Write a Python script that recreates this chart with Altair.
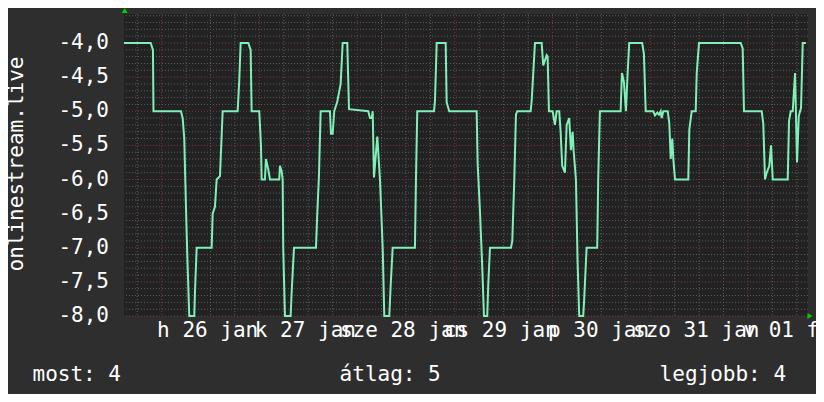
import altair as alt
import pandas as pd

# hours since 26 jan 00:00
hours = [-9.25, -2.70, -2.14, -2.01, 4.74, 5.16, 5.55, 5.97, 6.29, 6.78, 8.01, 8.18, 8.60,
         12.28, 12.53, 13.09, 13.51, 14.32, 14.98, 18.67, 19.06, 19.40, 21.27, 21.86, 22.10,
         23.97, 24.39, 24.56, 25.37, 25.61, 26.18, 26.60, 28.88, 29.05, 29.47, 29.72, 29.86,
         30.28, 31.68, 31.93, 32.50, 37.90, 38.22, 38.63, 39.05, 41.34, 41.58, 42.00, 42.39,
         43.13, 43.96, 44.46, 45.59, 46.01, 50.75, 51.17, 51.59, 51.83, 52.15, 52.96, 53.62,
         54.29, 54.68, 55.91, 56.25, 56.74, 62.21, 62.46, 62.78, 66.88, 67.13, 67.55, 69.76,
         70.00, 70.64, 77.37, 77.61, 78.17, 78.74, 79.16, 79.97, 80.21, 80.64, 85.80, 86.12,
         86.61, 87.02, 87.34, 90.63, 90.88, 91.69, 93.33, 93.72, 94.56, 94.80, 95.12, 96.03,
         96.59, 97.01, 97.65, 97.99, 98.38, 99.05, 99.47, 100.10, 100.52, 100.94, 101.18,
         101.75, 102.16, 102.56, 103.54, 103.78, 104.37, 106.98, 107.22, 107.64, 112.73,
         113.05, 113.54, 114.03, 114.45, 114.84, 118.03, 118.45, 118.89, 120.76, 121.17,
         121.74, 122.15, 122.57, 122.82, 123.21, 124.29, 124.68, 125.03, 125.42, 125.67,
         126.09, 129.35, 129.60, 130.19, 131.17, 131.42, 131.98, 142.22, 142.71, 143.03,
         147.38, 147.77, 148.19, 148.61, 149.25, 149.67, 150.09, 153.77, 154.09, 154.51,
         155.00, 155.57, 156.06, 156.48, 157.04, 157.46, 158.26]
values = [-4.0, -4.0, -4.1, -5.0, -5.0, -5.1, -5.4, -6.4, -7.1, -8.0, -8.0, -7.65, -7.0,
          -7.0, -6.5, -6.4, -6.0, -5.95, -5.0, -5.0, -4.55, -4.0, -4.0, -4.1, -5.0,
          -5.0, -5.5, -6.0, -6.0, -5.7, -5.85, -6.0, -6.0, -5.8, -5.88, -6.0, -7.0,
          -8.0, -8.0, -7.65, -7.0, -7.0, -6.5, -5.95, -5.0, -5.0, -5.33, -5.33, -5.0,
          -4.86, -4.6, -4.0, -4.0, -4.97, -5.0, -5.1, -5.1, -5.0, -5.97, -5.37, -6.0,
          -7.0, -8.0, -8.0, -7.55, -7.0, -7.0, -6.0, -5.0, -5.0, -4.85, -4.0, -4.0,
          -4.87, -5.0, -5.0, -5.77, -6.45, -7.28, -8.0, -8.0, -7.55, -7.0, -7.0, -6.9,
          -6.0, -5.05, -5.0, -5.0, -4.85, -4.0, -4.0, -4.33, -4.18, -4.2, -5.0, -5.0,
          -5.2, -5.0, -5.0, -5.3, -5.8, -5.9, -5.2, -5.1, -5.57, -5.3, -5.57,
          -6.0, -7.2, -8.0, -8.0, -7.75, -7.0, -7.0, -6.0, -5.0, -5.0,
          -4.44, -4.57, -5.0, -4.44, -4.0, -4.0, -4.16, -5.0, -5.0, -5.06,
          -5.02, -5.05, -5.0, -5.1, -5.0, -5.0, -5.17, -5.7, -5.4, -5.7,
          -6.0, -6.0, -5.27, -5.0, -5.0, -4.44, -4.0, -4.0, -4.08, -5.0,
          -5.0, -5.18, -6.0, -5.9, -5.8, -5.5, -6.0, -6.0, -5.14, -5.0,
          -5.0, -4.44, -5.75, -5.07, -4.95, -4.0, -4.0]

day_labels = ["h 26 jan", "k 27 jan", "sze 28 jan", "cs 29 jan", "p 30 jan",
              "szo 31 jan", "v 01 feb"]
y_tick_values = [-8.0, -7.5, -7.0, -6.5, -6.0, -5.5, -5.0, -4.5, -4.0]
y_tick_labels = ["-8,0", "-7,5", "-7,0", "-6,5", "-6,0", "-5,5", "-5,0", "-4,5", "-4,0"]
stat_labels = ["most: 4", "átlag: 5", "legjobb: 4"]
y_title = "onlinestream.live"

x_domain = [-9.25, 158.75]
y_domain = [-8.0, -3.575]

y_minor = [round(-8.0 + 0.1 * i, 1) for i in range(45) if i % 5 != 0]
x_major = [24 * d for d in range(7)]
x_minor = [6 * k for k in range(-1, 27) if k % 4 != 0]
label_hours = [24 * d + 11.3 for d in range(7)]

FONT = "DejaVu Sans Mono"
FS = 21
W, H = 684, 302

xs = alt.Scale(domain=x_domain, nice=False, zero=False)
ys = alt.Scale(domain=y_domain, nice=False, zero=False)

df = pd.DataFrame({"h": hours, "v": values})


def hrule(vals, color):
    return alt.Chart(pd.DataFrame({"v": vals})).mark_rule(
        color=color, strokeDash=[1, 2], strokeWidth=1
    ).encode(y=alt.Y("v:Q", scale=ys, axis=None))


def vrule(vals, color):
    return alt.Chart(pd.DataFrame({"h": vals})).mark_rule(
        color=color, strokeDash=[1, 2], strokeWidth=1
    ).encode(x=alt.X("h:Q", scale=xs, axis=None))


GRAY, RED = "#5e5e5e", "#7a3a3a"

line = alt.Chart(df).mark_line(color="#80f0b8", strokeWidth=2).encode(
    x=alt.X("h:Q", scale=xs, axis=None),
    y=alt.Y("v:Q", scale=ys, axis=None),
)

ylab = alt.Chart(pd.DataFrame({"v": y_tick_values, "t": y_tick_labels})).mark_text(
    font=FONT, fontSize=FS, color="#ffffff", align="right", baseline="middle"
).encode(x=alt.value(-15), y=alt.Y("v:Q", scale=ys, axis=None), text="t:N")

one = pd.DataFrame({"k": [0]})
ytitle = alt.Chart(one).mark_text(
    font=FONT, fontSize=FS, color="#ffffff", align="center", baseline="alphabetic",
    angle=270, text=y_title,
).encode(x=alt.value(-101), y=alt.value(150))

day_text = alt.Chart(pd.DataFrame({"h": label_hours, "t": day_labels})).mark_text(
    font=FONT, fontSize=FS, color="#ffffff", align="center", baseline="alphabetic"
).encode(x=alt.X("h:Q", scale=xs, axis=None), y=alt.value(H + 20.5), text="t:N")

stat_x = [-91.5, 215.6, 535.6]
stats = [
    alt.Chart(one).mark_text(
        font=FONT, fontSize=FS, color="#ffffff", align="left", baseline="alphabetic",
        text=s,
    ).encode(x=alt.value(px), y=alt.value(367))
    for s, px in zip(stat_labels, stat_x)
]

arrow_up = alt.Chart(one).mark_point(
    shape="triangle-up", filled=True, color="#00d000", size=35, opacity=1
).encode(x=alt.value(0.7), y=alt.value(-3.5))
arrow_right = alt.Chart(one).mark_point(
    shape="triangle-right", filled=True, color="#00d000", size=35, opacity=1
).encode(x=alt.value(686), y=alt.value(H))

chart = alt.layer(
    hrule(y_minor, GRAY), vrule(x_minor, GRAY), hrule(y_tick_values, RED),
    vrule(x_major, RED), line, ylab, ytitle, day_text, *stats,
    arrow_up, arrow_right,
).properties(
    width=W, height=H,
    autosize=alt.AutoSizeParams(type="none"),
    padding={"left": 116, "top": 6, "right": 8, "bottom": 78},
    background="#2e2e2e",
).configure_view(fill="#222222", stroke=None)

chart.save("out.html", embed_options={"renderer": "svg", "actions": False})
